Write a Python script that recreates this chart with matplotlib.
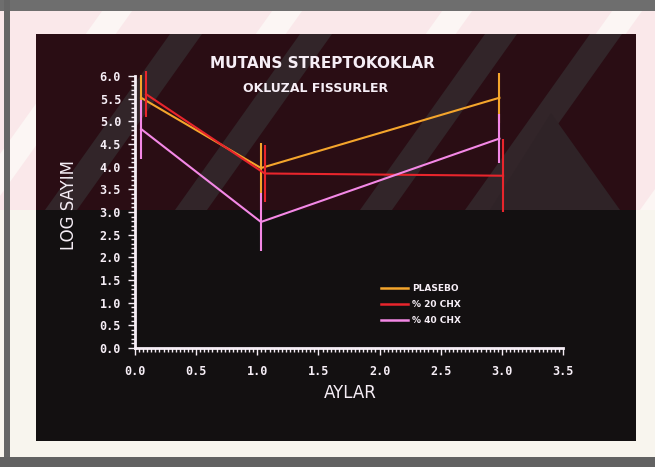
import matplotlib
matplotlib.use("Agg")
import matplotlib.pyplot as plt
from matplotlib.patches import Rectangle, Polygon
from matplotlib.ticker import MultipleLocator
from matplotlib.lines import Line2D

# data (months vs log count)
months = [0.05, 1.03, 2.98]
months_chx20 = [0.09, 1.06, 3.01]

plasebo = [5.52, 3.97, 5.52]
plasebo_err = [0.5, 0.55, 0.55]

chx20 = [5.6, 3.85, 3.8]
chx20_err = [0.5, 0.62, 0.8]

chx40 = [4.83, 2.78, 4.62]
chx40_err = [0.65, 0.65, 0.55]

labels = ['PLASEBO', '% 20 CHX', '% 40 CHX']
colors = ['#f4a52c', '#e8252c', '#f488e6']
fg = '#f6eef6'

W, H = 655, 467
fig = plt.figure(figsize=(W / 100, H / 100), dpi=100)
fig.patch.set_facecolor('#f8f5ee')

# slide background drawn in pixel coords
bg = fig.add_axes([0, 0, 1, 1], zorder=-1)
bg.set_xlim(0, W)
bg.set_ylim(H, 0)
bg.axis('off')

band = 210  # lower edge of the pinkish watermark band
bg.add_patch(Rectangle((0, 0), W, band, color='#fae8ea', lw=0))
for x0 in [-40, 130, 300, 470, 640]:
    bg.add_patch(Polygon([(x0, band), (x0 + 30, band), (x0 + 30 + 150, 0), (x0 + 150, 0)],
                         closed=True, color='#fcf6f4', lw=0))

# gray frame edges of the photographed slide
bg.add_patch(Rectangle((0, 0), W, 11, color='#6e6e6e', lw=0))
bg.add_patch(Rectangle((4, 0), 6, 462, color='#666666', lw=0))
bg.add_patch(Rectangle((0, 457), W, 10, color='#626262', lw=0))

# black screen
bg.add_patch(Rectangle((36, 34), 600, 407, color='#131011', lw=0))
top = Rectangle((36, 34), 600, band - 34, color='#2a0d14', lw=0)
bg.add_patch(top)
for x0 in [45, 175, 360, 465]:
    p = Polygon([(x0, band), (x0 + 32, band), (x0 + 32 + 125, 34), (x0 + 125, 34)],
                closed=True, color='#322529', lw=0)
    bg.add_patch(p)
    p.set_clip_path(top)
tri = Polygon([(551, 113), (490, band), (620, band)], closed=True, color='#2f2327', lw=0)
bg.add_patch(tri)

# main chart axes
ax = fig.add_axes([135 / W, (H - 348) / H, 428 / W, 272 / H])
ax.set_facecolor('none')
ax.set_xlim(0, 3.5)
ax.set_ylim(0, 6.0)

series = [(months, plasebo, plasebo_err), (months_chx20, chx20, chx20_err), (months, chx40, chx40_err)]
handles = []
for (xs, ys, es), c in zip(series, colors):
    ax.plot(xs, ys, color=c, lw=1.5, clip_on=False)
    ax.vlines(xs, [y - e for y, e in zip(ys, es)], [y + e for y, e in zip(ys, es)],
              color=c, lw=1.5, clip_on=False)
    handles.append(Line2D([], [], color=c, lw=1.8))

for s in ['top', 'right']:
    ax.spines[s].set_visible(False)
for s in ['left', 'bottom']:
    ax.spines[s].set_color(fg)
    ax.spines[s].set_linewidth(2)

ax.xaxis.set_major_locator(MultipleLocator(0.5))
ax.xaxis.set_minor_locator(MultipleLocator(1 / 30))
ax.yaxis.set_major_locator(MultipleLocator(0.5))
ax.yaxis.set_minor_locator(MultipleLocator(0.1))
ax.tick_params(which='both', direction='out', color=fg, width=1)
ax.tick_params(which='major', length=5)
ax.tick_params(which='minor', length=3)
ax.tick_params(axis='x', pad=7)
ax.tick_params(axis='y', pad=5)
ax.xaxis.set_major_formatter(matplotlib.ticker.FormatStrFormatter('%.1f'))
ax.yaxis.set_major_formatter(matplotlib.ticker.FormatStrFormatter('%.1f'))
for lab in ax.get_xticklabels() + ax.get_yticklabels():
    lab.set_family('DejaVu Sans Mono')
    lab.set_fontweight('bold')
    lab.set_fontsize(8.5)
    lab.set_color(fg)

leg = ax.legend(handles, labels, loc='center left', bbox_to_anchor=(0.555, 0.16),
                frameon=False, handlelength=3.0, handletextpad=0.5, labelspacing=0.75,
                prop={'family': 'DejaVu Sans', 'weight': 'bold', 'size': 6.5})
for t in leg.get_texts():
    t.set_color(fg)

fig.text(322 / W, 1 - 64 / H, 'MUTANS STREPTOKOKLAR', ha='center', va='center',
         color=fg, fontsize=11, fontweight='bold')
fig.text(316 / W, 1 - 88 / H, 'OKLUZAL FISSURLER', ha='center', va='center',
         color=fg, fontsize=9, fontweight='bold')
fig.text(350 / W, 1 - 393 / H, 'AYLAR', ha='center', va='center', color=fg, fontsize=12)
fig.text(69 / W, 1 - 205 / H, 'LOG SAYIM', ha='center', va='center', color=fg,
         fontsize=12, rotation=90)

fig.savefig('out.png', dpi=100, facecolor=fig.get_facecolor())
